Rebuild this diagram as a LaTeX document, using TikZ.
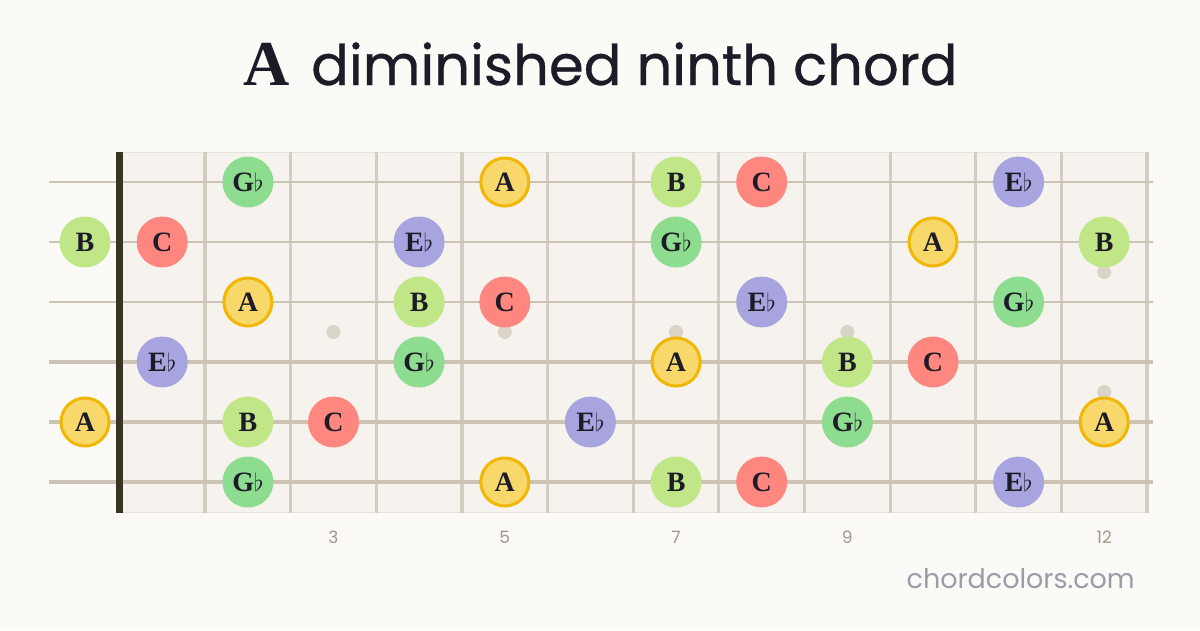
\documentclass[tikz,border=0pt]{standalone}
\usepackage{fontspec}
\newfontfamily\titlesans{Poppins}
\newfontfamily\titleheavy[FakeBold=0.6]{Poppins}
\newfontfamily\noteserif{Liberation Serif}
\definecolor{bgc}{HTML}{FBFAF6}
\definecolor{boardc}{HTML}{F6F3EF}
\definecolor{boardedge}{HTML}{E6E1D9}
\definecolor{fretc}{HTML}{D3CCC0}
\definecolor{stringc}{HTML}{CCC3B5}
\definecolor{nutc}{HTML}{3A3424}
\definecolor{dotc}{HTML}{DAD4C8}
\definecolor{inkc}{HTML}{1D1B27}
\definecolor{numc}{HTML}{A09889}
\definecolor{footc}{HTML}{9C9CA9}
\definecolor{colA}{HTML}{F9D86B}
\definecolor{colAedge}{HTML}{F2B705}
\definecolor{colB}{HTML}{C0E687}
\definecolor{colC}{HTML}{FF8780}
\definecolor{colE}{HTML}{A7A4E0}
\definecolor{colG}{HTML}{8DDC8F}
\newcommand{\fl}[1]{#1\kern0pt\raisebox{0pt}{\fontsize{24}{24}\selectfont$\flat$}}
\begin{document}
\begin{tikzpicture}[x=1pt,y=-1pt,
  note/.style={circle,minimum size=51pt,inner sep=0pt,text=inkc,
    font=\noteserif\bfseries\fontsize{28}{28}\selectfont},
  nA/.style={note,fill=colA,draw=colAedge,line width=3pt,minimum size=48pt},
  nB/.style={note,fill=colB},
  nC/.style={note,fill=colC},
  nE/.style={note,fill=colE},
  nG/.style={note,fill=colG},
  fretline/.style={draw=fretc,line width=3.2pt},
  strline/.style={draw=stringc},
  fdot/.style={circle,fill=dotc,minimum size=14pt,inner sep=0pt},
  fnum/.style={text=numc,font=\titlesans\fontsize{17}{17}\selectfont},
]
\useasboundingbox (0,0) rectangle (1200,630);
\fill[bgc] (0,0) rectangle (1200,630);
% title
\node[anchor=base east,text=inkc,inner sep=0pt,font=\noteserif\bfseries\fontsize{64}{64}\selectfont] (titleA) at (290,85) {A};
\node[anchor=base west,text=inkc,inner sep=0pt,font=\titleheavy\fontsize{56}{56}\selectfont] (title) at (311,85) {diminished ninth chord};
% board
\fill[boardc] (119,152) rectangle (1147,513);
\draw[boardedge,line width=1.5pt] (119,152.5) -- (1147,152.5);
\draw[boardedge,line width=1.5pt] (119,512.5) -- (1147,512.5);
% frets
\foreach \k in {1,...,12} {
  \coordinate (ft\k) at ({119.4+85.64*\k},152);
  \coordinate (fb\k) at ({119.4+85.64*\k},513);
  \draw[fretline] (ft\k) -- (fb\k);
}
% fret dots
\foreach \k in {3,5,7,9} {
  \node[fdot] (dot\k) at ({119.4+85.64*(\k-0.5)},332) {};
}
\node[fdot] (dot12a) at (1104.2,272) {};
\node[fdot] (dot12b) at (1104.2,392) {};
% strings
\foreach \s/\w in {1/2.0,2/2.4,3/2.8,4/3.2,5/3.6,6/4.0} {
  \coordinate (sl\s) at (49,{122+60*\s});
  \coordinate (sr\s) at (1153,{122+60*\s});
  \draw[strline,line width=\w pt] (sl\s) -- (sr\s);
}
% nut
\coordinate (nutT) at (119.5,152);
\coordinate (nutB) at (119.5,513);
\draw[nutc,line width=7pt] (nutT) -- (nutB);
% fret numbers
\foreach \k in {3,5,7,9,12} {
  \node[fnum,anchor=base] (num\k) at ({119.4+85.64*(\k-0.5)},543) {\k};
}
% footer
\node[anchor=base east,text=footc,inner sep=0pt,font=\titlesans\fontsize{27}{27}\selectfont] (foot) at (1135,588) {chordcolors.com};
% notes: x of fret n = 119.4+85.64*(n-0.5); open = 85
% string 1 (y=182)
\node[nG] (s1f2) at (247.9,182) {\fl{G}};
\node[nA] (s1f5) at (504.8,182) {A};
\node[nB] (s1f7) at (676.1,182) {B};
\node[nC] (s1f8) at (761.7,182) {C};
\node[nE] (s1f11) at (1018.6,182) {\fl{E}};
% string 2 (y=242)
\node[nB] (s2f0) at (85,242) {B};
\node[nC] (s2f1) at (162.2,242) {C};
\node[nE] (s2f4) at (419.1,242) {\fl{E}};
\node[nG] (s2f7) at (676.1,242) {\fl{G}};
\node[nA] (s2f10) at (933.0,242) {A};
\node[nB] (s2f12) at (1104.2,242) {B};
% string 3 (y=302)
\node[nA] (s3f2) at (247.9,302) {A};
\node[nB] (s3f4) at (419.1,302) {B};
\node[nC] (s3f5) at (504.8,302) {C};
\node[nE] (s3f8) at (761.7,302) {\fl{E}};
\node[nG] (s3f11) at (1018.6,302) {\fl{G}};
% string 4 (y=362)
\node[nE] (s4f1) at (162.2,362) {\fl{E}};
\node[nG] (s4f4) at (419.1,362) {\fl{G}};
\node[nA] (s4f7) at (676.1,362) {A};
\node[nB] (s4f9) at (847.4,362) {B};
\node[nC] (s4f10) at (933.0,362) {C};
% string 5 (y=422)
\node[nA] (s5f0) at (85,422) {A};
\node[nB] (s5f2) at (247.9,422) {B};
\node[nC] (s5f3) at (333.5,422) {C};
\node[nE] (s5f6) at (590.4,422) {\fl{E}};
\node[nG] (s5f9) at (847.4,422) {\fl{G}};
\node[nA] (s5f12) at (1104.2,422) {A};
% string 6 (y=482)
\node[nG] (s6f2) at (247.9,482) {\fl{G}};
\node[nA] (s6f5) at (504.8,482) {A};
\node[nB] (s6f7) at (676.1,482) {B};
\node[nC] (s6f8) at (761.7,482) {C};
\node[nE] (s6f11) at (1018.6,482) {\fl{E}};
\end{tikzpicture}
\end{document}
